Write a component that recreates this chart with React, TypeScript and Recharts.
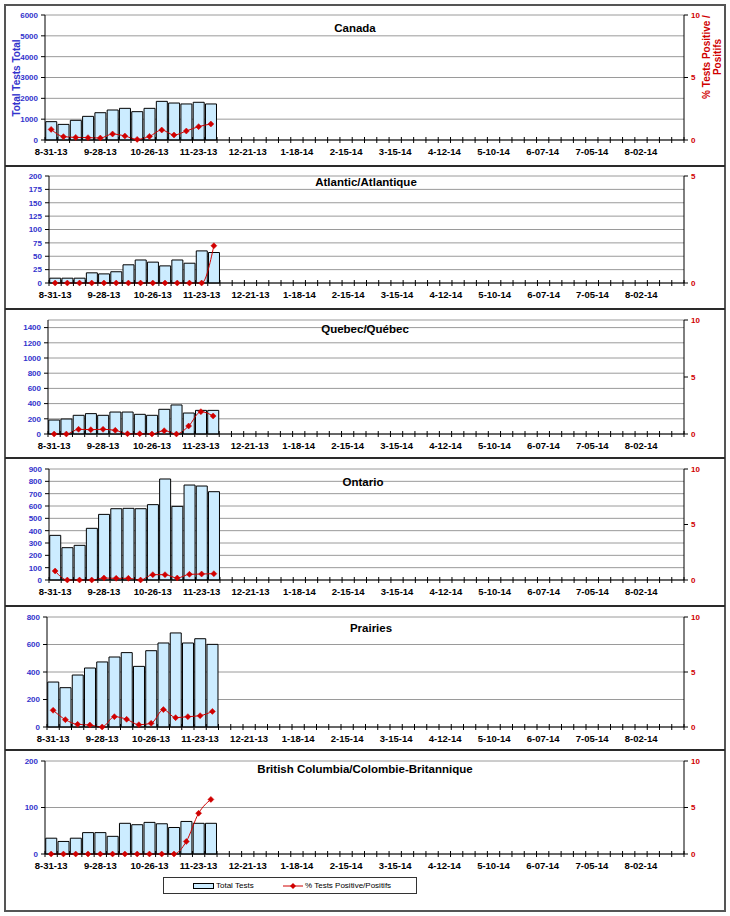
import React from 'react';
import { ComposedChart, Bar, Line, XAxis, YAxis, CartesianGrid, Legend } from 'recharts';

const weeks = [
  '8-31-13', '9-07-13', '9-14-13', '9-21-13', '9-28-13', '10-05-13', '10-12-13', '10-19-13',
  '10-26-13', '11-02-13', '11-09-13', '11-16-13', '11-23-13', '11-30-13', '12-07-13', '12-14-13',
  '12-21-13', '12-28-13', '1-04-14', '1-11-14', '1-18-14', '1-25-14', '2-01-14', '2-08-14',
  '2-15-14', '2-22-14', '3-01-14', '3-08-14', '3-15-14', '3-22-14', '3-29-14', '4-05-14',
  '4-12-14', '4-19-14', '4-26-14', '5-03-14', '5-10-14', '5-17-14', '5-24-14', '5-31-14',
  '6-07-14', '6-14-14', '6-21-14', '6-28-14', '7-05-14', '7-12-14', '7-19-14', '7-26-14',
  '8-02-14', '8-09-14', '8-16-14', '8-23-14',
];

const canadaTotal = [880, 750, 945, 1135, 1310, 1440, 1520, 1360, 1520, 1855, 1775, 1730, 1810, 1730];
const canadaPct = [0.85, 0.27, 0.21, 0.19, 0.16, 0.48, 0.32, 0.05, 0.29, 0.8, 0.4, 0.72, 1.07, 1.28];
const atlanticTotal = [9, 9, 9, 19, 17, 21, 34, 43, 39, 32, 43, 37, 60, 57];
const atlanticPct = [0, 0, 0, 0, 0, 0, 0, 0, 0, 0, 0, 0, 0, 1.74];
const quebecTotal = [184, 197, 246, 268, 246, 289, 289, 259, 246, 325, 382, 276, 311, 311];
const quebecPct = [0, 0, 0.41, 0.38, 0.41, 0.32, 0.02, 0.02, 0, 0.29, 0, 0.7, 1.96, 1.58];
const ontarioTotal = [362, 262, 281, 419, 532, 578, 581, 578, 611, 819, 597, 770, 762, 716];
const ontarioPct = [0.81, 0, 0, 0, 0.18, 0.15, 0.15, 0, 0.48, 0.48, 0.18, 0.51, 0.54, 0.57];
const prairiesTotal = [327, 286, 378, 429, 473, 509, 541, 441, 555, 611, 684, 611, 642, 601];
const prairiesPct = [1.52, 0.67, 0.24, 0.18, 0, 0.94, 0.7, 0.21, 0.33, 1.58, 0.85, 0.94, 1.03, 1.42];
const bcTotal = [34, 27, 34, 46, 46, 38, 66, 63, 68, 65, 57, 70, 66, 66];
const bcPct = [0, 0, 0, 0, 0, 0, 0, 0, 0, 0, 0, 1.35, 4.38, 5.87];

const canadaTicks = [0, 1000, 2000, 3000, 4000, 5000, 6000];
const atlanticTicks = [0, 25, 50, 75, 100, 125, 150, 175, 200];
const quebecTicks = [0, 200, 400, 600, 800, 1000, 1200, 1400];
const ontarioTicks = [0, 100, 200, 300, 400, 500, 600, 700, 800, 900];
const prairiesTicks = [0, 200, 400, 600, 800];
const bcTicks = [0, 100, 200];
const pctTicks = [0, 5, 10];
const atlanticPctTicks = [0, 5];

const FONT = '"Liberation Sans", Arial, Helvetica, sans-serif';
const BLUE = '#3333CC';
const RED = '#D00000';
const BAR_FILL = '#CCECFF';
const RIGHT = 684;
const W = 730;

type Cfg = {
  title: string;
  total: number[];
  pct: number[];
  leftTicks: number[];
  leftMax: number;
  rightTicks: number[];
  rightMax: number;
  plotTop: number;
  plotBottom: number;
  plotLeft: number;
  titleX: number;
  titleY: number;
};

const panels: Cfg[] = [
  { title: 'Canada', total: canadaTotal, pct: canadaPct, leftTicks: canadaTicks, leftMax: 6000, rightTicks: pctTicks, rightMax: 10, plotTop: 15, plotBottom: 140, plotLeft: 45, titleX: 355, titleY: 28 },
  { title: 'Atlantic/Atlantique', total: atlanticTotal, pct: atlanticPct, leftTicks: atlanticTicks, leftMax: 200, rightTicks: atlanticPctTicks, rightMax: 5, plotTop: 176, plotBottom: 283, plotLeft: 49, titleX: 366, titleY: 182 },
  { title: 'Quebec/Québec', total: quebecTotal, pct: quebecPct, leftTicks: quebecTicks, leftMax: 1500, rightTicks: pctTicks, rightMax: 10, plotTop: 320, plotBottom: 434, plotLeft: 48, titleX: 365, titleY: 329 },
  { title: 'Ontario', total: ontarioTotal, pct: ontarioPct, leftTicks: ontarioTicks, leftMax: 900, rightTicks: pctTicks, rightMax: 10, plotTop: 469, plotBottom: 580, plotLeft: 49, titleX: 363, titleY: 482 },
  { title: 'Prairies', total: prairiesTotal, pct: prairiesPct, leftTicks: prairiesTicks, leftMax: 800, rightTicks: pctTicks, rightMax: 10, plotTop: 617, plotBottom: 727, plotLeft: 47, titleX: 371, titleY: 628 },
  { title: 'British Columbia/Colombie-Britannique', total: bcTotal, pct: bcPct, leftTicks: bcTicks, leftMax: 200, rightTicks: pctTicks, rightMax: 10, plotTop: 761, plotBottom: 854, plotLeft: 45, titleX: 365, titleY: 769 },
];

const dividers = [165, 308, 457, 605, 749];

function XTick(props: any) {
  const { x, y, payload, step, count } = props;
  const index = props.index ?? payload?.index ?? 0;
  const left = x - step / 2;
  return (
    <g>
      <line x1={left} x2={left} y1={y - 3} y2={y + 3} stroke="#000" strokeWidth={1} />
      {index === count - 1 && (
        <line x1={x + step / 2} x2={x + step / 2} y1={y - 3} y2={y + 3} stroke="#000" strokeWidth={1} />
      )}
      {index % 4 === 0 && (
        <text x={x} y={y + 15} textAnchor="middle" fontSize={9.5} fontWeight={700} fontFamily={FONT} fill="#000">
          {payload.value}
        </text>
      )}
    </g>
  );
}

const renderDiamond = (p: any) => {
  const { cx, cy, value, index } = p;
  if (value == null || cx == null || cy == null) return <g key={`d${index}`} />;
  const r = 3;
  return (
    <polygon
      key={`d${index}`}
      points={`${cx},${cy - r} ${cx + r},${cy} ${cx},${cy + r} ${cx - r},${cy}`}
      fill={RED}
      stroke={RED}
      strokeWidth={0.5}
    />
  );
};

const LegendBox = () => (
  <div style={{ position: 'relative', height: 17 }}>
    <div
      style={{
        position: 'absolute',
        left: 163,
        top: 0,
        width: 254,
        height: 17,
        boxSizing: 'border-box',
        border: '1px solid #333',
        fontFamily: FONT,
        fontSize: 8,
        color: '#000',
        background: '#fff',
      }}
    >
      <svg width={22} height={8} style={{ position: 'absolute', left: 29, top: 4 }}>
        <rect x={0.5} y={1.5} width={20} height={5} fill={BAR_FILL} stroke="#000" strokeWidth={1} />
      </svg>
      <span style={{ position: 'absolute', left: 52, top: 2, whiteSpace: 'nowrap', lineHeight: '11px' }}>Total Tests</span>
      <svg width={22} height={8} style={{ position: 'absolute', left: 119, top: 4 }}>
        <line x1={0} x2={20} y1={4} y2={4} stroke={RED} strokeWidth={1} />
        <polygon points="10,1 13,4 10,7 7,4" fill={RED} />
      </svg>
      <span style={{ position: 'absolute', left: 141, top: 2, whiteSpace: 'nowrap', lineHeight: '11px' }}>
        % Tests Positive/Positifs
      </span>
    </div>
  </div>
);

function Panel({ cfg, legend }: { cfg: Cfg; legend?: boolean }) {
  const top = cfg.plotTop - 5;
  const xH = legend ? 23 : 25;
  const legendH = legend ? 17 : 0;
  const mb = legend ? 17 : 0;
  const plotH = cfg.plotBottom - cfg.plotTop;
  const h = 5 + plotH + xH + legendH + mb;
  const step = (RIGHT - cfg.plotLeft) / weeks.length;
  const data = weeks.map((w, i) => ({
    week: w,
    total: i < cfg.total.length ? cfg.total[i] : null,
    pct: i < cfg.pct.length ? cfg.pct[i] : null,
  }));
  return (
    <div style={{ position: 'absolute', left: 0, top, width: W, height: h }}>
      <ComposedChart
        width={W}
        height={h}
        data={data}
        margin={{ top: 5, right: 0, left: 0, bottom: mb }}
        barCategoryGap="6%"
      >
        <CartesianGrid yAxisId="left" vertical={false} stroke="#9a9a9a" strokeWidth={1} />
        <XAxis
          dataKey="week"
          interval={0}
          tickSize={0}
          tickMargin={0}
          height={xH}
          axisLine={{ stroke: '#000' }}
          tickLine={false}
          tick={(p: any) => <XTick {...p} step={step} count={weeks.length} />}
        />
        <YAxis
          yAxisId="left"
          width={cfg.plotLeft}
          domain={[0, cfg.leftMax]}
          ticks={cfg.leftTicks}
          interval={0}
          tick={{ fill: BLUE, fontSize: 8, fontWeight: 700, fontFamily: FONT }}
          tickSize={4}
          tickMargin={3}
          axisLine={{ stroke: '#000' }}
          tickLine={{ stroke: '#000' }}
        />
        <YAxis
          yAxisId="right"
          orientation="right"
          width={W - RIGHT}
          domain={[0, cfg.rightMax]}
          ticks={cfg.rightTicks}
          interval={0}
          tick={{ fill: RED, fontSize: 8, fontWeight: 700, fontFamily: FONT }}
          tickSize={4}
          tickMargin={3}
          axisLine={{ stroke: '#000' }}
          tickLine={{ stroke: '#000' }}
        />
        <Bar yAxisId="left" dataKey="total" name="Total Tests" fill={BAR_FILL} stroke="#000" strokeWidth={1} isAnimationActive={false} />
        <Line
          yAxisId="right"
          dataKey="pct"
          name="% Tests Positive/Positifs"
          type="monotone"
          stroke={RED}
          strokeWidth={1}
          dot={renderDiamond}
          activeDot={false}
          isAnimationActive={false}
        />
        {legend && <Legend verticalAlign="bottom" content={LegendBox} />}
      </ComposedChart>
    </div>
  );
}

export default function App() {
  return (
    <div style={{ position: 'absolute', left: 0, top: 0, width: W, height: 916, background: '#fff', fontFamily: FONT }}>
      <div
        style={{
          position: 'absolute',
          left: 4,
          top: 4,
          width: 722,
          height: 908,
          boxSizing: 'border-box',
          border: '2px solid #555',
        }}
      />
      {dividers.map((y) => (
        <div key={y} style={{ position: 'absolute', left: 5, top: y, width: 720, height: 2, background: '#2a2a2a' }} />
      ))}
      {panels.map((cfg, i) => (
        <Panel key={cfg.title} cfg={cfg} legend={i === panels.length - 1} />
      ))}
      {panels.map((cfg) => (
        <div
          key={'t' + cfg.title}
          style={{
            position: 'absolute',
            left: cfg.titleX - 150,
            width: 300,
            top: cfg.titleY - 7,
            lineHeight: '14px',
            textAlign: 'center',
            fontWeight: 700,
            fontSize: 11.5,
            color: '#000',
            whiteSpace: 'nowrap',
          }}
        >
          {cfg.title}
        </div>
      ))}
      <div
        style={{
          position: 'absolute',
          left: 16,
          top: 78,
          transform: 'translate(-50%, -50%) rotate(-90deg)',
          whiteSpace: 'nowrap',
          fontWeight: 700,
          fontSize: 10,
          color: BLUE,
          lineHeight: '11px',
        }}
      >
        Total Tests Total
      </div>
      <div
        style={{
          position: 'absolute',
          left: 712,
          top: 57,
          transform: 'translate(-50%, -50%) rotate(-90deg)',
          whiteSpace: 'nowrap',
          fontWeight: 700,
          fontSize: 10,
          color: RED,
          lineHeight: '11px',
          textAlign: 'center',
        }}
      >
        % Tests Positive /<br />Positifs
      </div>
    </div>
  );
}
